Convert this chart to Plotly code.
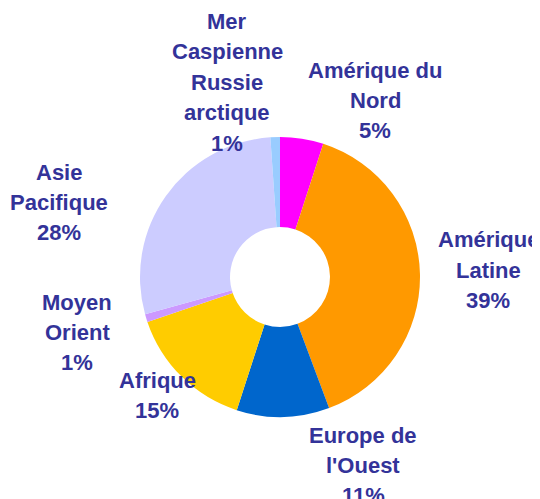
import plotly.graph_objects as go

regions = ["Amérique du Nord", "Amérique Latine", "Europe de l'Ouest", "Afrique",
           "Moyen Orient", "Asie Pacifique", "Mer Caspienne Russie arctique"]
label_lines = [["Amérique du", "Nord"], ["Amérique", "Latine"], ["Europe de", "l'Ouest"], ["Afrique"],
               ["Moyen", "Orient"], ["Asie", "Pacifique"], ["Mer", "Caspienne", "Russie", "arctique"]]
values = [5.0, 39.3, 10.7, 14.8, 0.9, 28.2, 1.1]
pct_labels = ["5%", "39%", "11%", "15%", "1%", "28%", "1%"]
colors = ["#FF00FF", "#FF9900", "#0066CC", "#FFCC00", "#CC99FF", "#CCCCFF", "#99CCFF"]

OFF = 8  # page body margin
W, H = 540 - OFF, 499 - OFF
# label: centre x and first-line y in reference pixels
label_pos = [(375, 70), (488, 240), (363, 435), (157, 380), (77, 302), (59, 172), (227, 21.5)]
LINE = 30.4

cx, cy, R = 280 - OFF, 277 - OFF, 140

fig = go.Figure(go.Pie(
    labels=regions, values=values, sort=False, direction="clockwise", rotation=0,
    hole=0.357, marker=dict(colors=colors, line=dict(width=0)),
    textinfo="none", hoverinfo="label+percent", showlegend=False,
    domain=dict(x=[(cx - R) / W, (cx + R) / W], y=[(H - cy - R) / H, (H - cy + R) / H]),
))

for lines, pct, (px, py) in zip(label_lines, pct_labels, label_pos):
    for i, t in enumerate(lines + [pct]):
        yy = py + i * LINE - OFF
        fig.add_annotation(
            x=(px - OFF) / W, y=1 - yy / H, xref="paper", yref="paper",
            text=f"<b>{t}</b>", showarrow=False,
            xanchor="center", yanchor="middle", align="center",
            font=dict(family="Liberation Sans, Arial, sans-serif", size=22, color="#333399"),
        )

fig.update_layout(
    width=W, height=H, margin=dict(l=0, r=0, t=0, b=0),
    paper_bgcolor="white", plot_bgcolor="white",
)
fig.write_html("out.html")
